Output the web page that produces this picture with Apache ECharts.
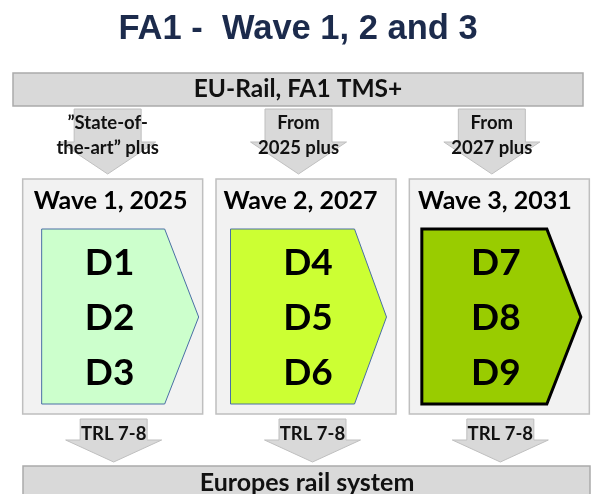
<!DOCTYPE html>
<html><head><meta charset="utf-8">
<script src="https://cdn.jsdelivr.net/npm/echarts@6/dist/echarts.min.js"></script>
<style>html,body{margin:0;padding:0;background:#fff}#c{width:596px;height:494px}</style>
</head><body><div id="c"></div>
<script>
// ---- data ----
const mainTitle = 'FA1 -  Wave 1, 2 and 3';
const topBarText = 'EU-Rail, FA1 TMS+';
const bottomBarText = 'Europes rail system';
const waveTitles = ['Wave 1, 2025', 'Wave 2, 2027', 'Wave 3, 2031'];
const entryTexts = ['\u201DState-of-\nthe-art\u201D plus', 'From\n2025 plus', 'From\n2027 plus'];
const deliverables = [['D1', 'D2', 'D3'], ['D4', 'D5', 'D6'], ['D7', 'D8', 'D9']];
const exitTexts = ['TRL 7-8', 'TRL 7-8', 'TRL 7-8'];

// ---- layout / style ----
const FONT = 'Lato, "Open Sans", sans-serif';
const layout = {
  topArrowShift: [-5, -7.5, -7.5],
  bottomArrowShift: [1, 6.5, 1],
  titleShift: [-2, -5.5, -4.5],
  dShift: [-3, 2, -3.5],
  penLeft: [-71, -75.5, -77.5],
  penShoulder: [52, 48.5, 47.5],
  penTip: [86, 80.5, 81.5]
};
const penStyles = [
  { fill: '#ccffcc', stroke: '#4a6fa5', lineWidth: 1 },
  { fill: '#ccff33', stroke: '#4a6fa5', lineWidth: 1 },
  { fill: '#99cc00', stroke: '#000000', lineWidth: 3 }
];
const arrowStyle = { fill: '#d9d9d9', stroke: '#bfbfbf', lineWidth: 1 };

function downArrow(cx, yTop, headTop, tip, sh, hh) {
  return {
    type: 'polygon',
    shape: { points: [[cx - sh, yTop], [cx + sh, yTop], [cx + sh, headTop], [cx + hh, headTop], [cx, tip], [cx - hh, headTop], [cx - sh, headTop]] },
    style: arrowStyle
  };
}

function renderItem(params, api) {
  const i = api.value(0);
  const cx = api.coord([i, 0])[0];
  const children = [];
  // entry arrow
  const ta = cx + layout.topArrowShift[i];
  children.push(downArrow(ta, 109, 142, 174, 33.5, 48));
  children.push({ type: 'text', style: { text: entryTexts[i], x: ta, y: 136, align: 'center', verticalAlign: 'middle', font: 'bold 18.5px ' + FONT, fill: '#111', lineHeight: 25 } });
  // wave box
  children.push({ type: 'rect', shape: { x: cx - 90, y: 179, width: 180, height: 235 }, style: { fill: '#f2f2f2', stroke: '#bfbfbf', lineWidth: 1.5 } });
  children.push({ type: 'text', style: { text: waveTitles[i], x: cx + layout.titleShift[i], y: 201, align: 'center', verticalAlign: 'middle', font: 'bold 25px ' + FONT, fill: '#000' } });
  // pentagon
  const l = cx + layout.penLeft[i], s = cx + layout.penShoulder[i], t = cx + layout.penTip[i];
  children.push({ type: 'polygon', shape: { points: [[l, 229], [s, 229], [t, 317], [s, 404], [l, 404]] }, style: penStyles[i] });
  deliverables[i].forEach((d, k) => {
    children.push({ type: 'text', style: { text: d, x: cx + layout.dShift[i], y: 263 + k * 55, align: 'center', verticalAlign: 'middle', font: 'bold 37px ' + FONT, fill: '#000' } });
  });
  // exit arrow
  const ba = cx + layout.bottomArrowShift[i];
  children.push(downArrow(ba, 419, 440, 462, 33.5, 48));
  children.push({ type: 'text', style: { text: exitTexts[i], x: ba, y: 434, align: 'center', verticalAlign: 'middle', font: 'bold 18.5px ' + FONT, fill: '#111' } });
  return { type: 'group', children };
}

const chart = echarts.init(document.getElementById('c'));
chart.setOption({
  animation: false,
  title: {
    text: mainTitle, left: 'center', top: 7,
    textStyle: { fontFamily: '"Liberation Sans", Arial, sans-serif', fontWeight: 'bold', fontSize: 34.5, color: '#1c2b4c' }
  },
  grid: { left: 16, top: 0, width: 582, height: 494 },
  xAxis: { type: 'category', data: waveTitles, show: false },
  yAxis: { type: 'value', min: 0, max: 1, show: false },
  graphic: [
    { type: 'rect', shape: { x: 13, y: 73, width: 570, height: 33 }, style: { fill: '#d9d9d9', stroke: '#aaaaaa', lineWidth: 1.5 }, z: 1 },
    { type: 'text', style: { text: topBarText, x: 298, y: 89, align: 'center', verticalAlign: 'middle', font: 'bold 24.5px ' + FONT, fill: '#111' }, z: 2 },
    { type: 'rect', shape: { x: 23, y: 466, width: 567, height: 40 }, style: { fill: '#d9d9d9', stroke: '#aaaaaa', lineWidth: 1.5 }, z: 1 },
    { type: 'text', style: { text: bottomBarText, x: 307, y: 483, align: 'center', verticalAlign: 'middle', font: 'bold 25px ' + FONT, fill: '#111' }, z: 2 }
  ],
  series: [{
    type: 'custom',
    renderItem: renderItem,
    data: waveTitles.map((w, i) => [i]),
    encode: { x: 0 },
    silent: true
  }]
});
</script></body></html>
